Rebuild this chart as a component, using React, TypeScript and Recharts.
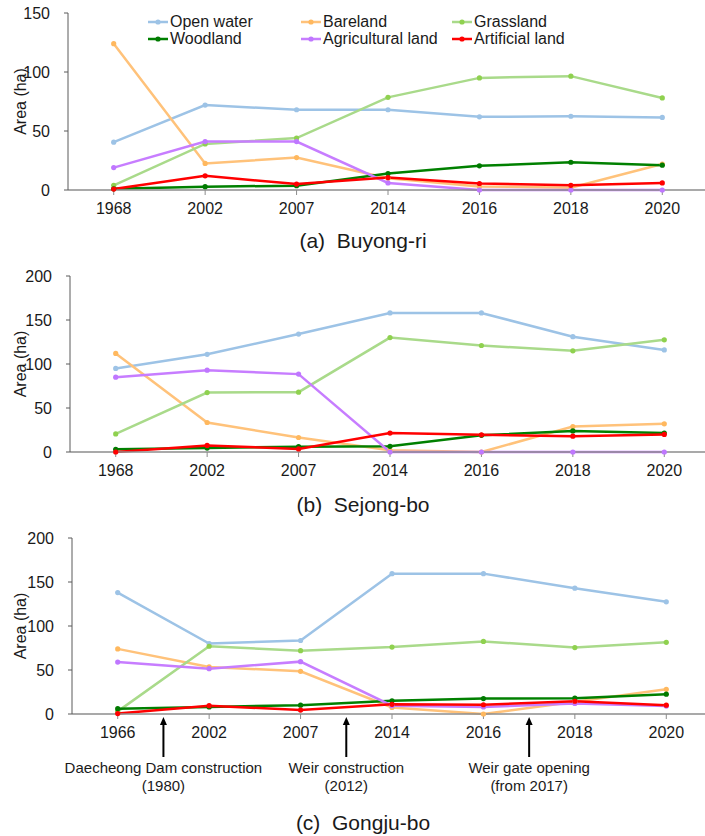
import React from 'react';
import { LineChart, Line, XAxis, YAxis } from 'recharts';

// ---------- data ----------
const yearsA = ['1968', '2002', '2007', '2014', '2016', '2018', '2020'];
const yearsB = ['1968', '2002', '2007', '2014', '2016', '2018', '2020'];
const yearsC = ['1966', '2002', '2007', '2014', '2016', '2018', '2020'];

const openWaterA = [40.5, 72, 68, 68, 62, 62.5, 61.5];
const barelandA = [124, 22.5, 27.5, 10, 3, 2, 22];
const grasslandA = [4, 39, 44, 78.5, 95, 96.5, 78];
const woodlandA = [1, 2.8, 3.7, 14, 20.5, 23.5, 21];
const agriculturalA = [19, 41, 41, 6, 0, 0, 0];
const artificialA = [0.8, 12, 5, 10.5, 5.5, 4, 6];

const openWaterB = [95, 111, 134, 158, 158, 131, 116];
const barelandB = [112, 33.5, 16.5, 2, 0, 29, 32];
const grasslandB = [20.5, 67.5, 68, 130, 121, 115, 127.5];
const woodlandB = [3, 4.5, 6, 6.5, 19, 24, 21.5];
const agriculturalB = [85, 93, 88.5, 0, 0, 0, 0];
const artificialB = [0, 7.5, 3.5, 21.5, 19.5, 18, 20];

const openWaterC = [138, 80, 83.5, 159.5, 159.5, 143, 127.5];
const barelandC = [74, 53.5, 48.5, 7.5, 0, 14, 28];
const grasslandC = [3, 77, 72, 76, 82.5, 75.5, 81.5];
const woodlandC = [6, 8, 10, 15, 17.5, 18, 22.5];
const agriculturalC = [59, 51.5, 59.5, 9.5, 8, 12, 9];
const artificialC = [0.5, 9.5, 4.5, 11, 10.5, 14.5, 10];

const ticksA = [0, 50, 100, 150];
const ticksBC = [0, 50, 100, 150, 200];

const titles = ['(a)  Buyong-ri', '(b)  Sejong-bo', '(c)  Gongju-bo'];
const eventLines = [
  ['Daecheong Dam construction', '(1980)'],
  ['Weir construction', '(2012)'],
  ['Weir gate opening', '(from 2017)'],
];
// event falls between category index k-1 and k
const eventBoundary = [1, 3, 5];

// ---------- styles ----------
const FONT = '"Liberation Sans", Arial, sans-serif';
const TEXT = '#1a1a1a';

const series = [
  { key: 'openWater', name: 'Open water', color: '#9DC3E6', dot: '#9DC3E6' },
  { key: 'bareland', name: 'Bareland', color: '#FFC27A', dot: '#FFB85E' },
  { key: 'grassland', name: 'Grassland', color: '#A9DA8A', dot: '#8FD14F' },
  { key: 'woodland', name: 'Woodland', color: '#008000', dot: '#007A00' },
  { key: 'agricultural', name: 'Agricultural land', color: '#C77DFF', dot: '#BF77FF' },
  { key: 'artificial', name: 'Artificial land', color: '#FF0000', dot: '#FF0000' },
];

function build(years: string[], ow: number[], bl: number[], gl: number[], wl: number[], ag: number[], ar: number[]) {
  return years.map((y, i) => ({
    year: y,
    openWater: ow[i],
    bareland: bl[i],
    grassland: gl[i],
    woodland: wl[i],
    agricultural: ag[i],
    artificial: ar[i],
  }));
}

const dataA = build(yearsA, openWaterA, barelandA, grasslandA, woodlandA, agriculturalA, artificialA);
const dataB = build(yearsB, openWaterB, barelandB, grasslandB, woodlandB, agriculturalB, artificialB);
const dataC = build(yearsC, openWaterC, barelandC, grasslandC, woodlandC, agriculturalC, artificialC);

const CH = 230;
const MB = 10;
const XH = 30;
const PLOT_W = 640;
const BAND = PLOT_W / 7;

const panels = [
  { top: 0, mt: 13, yw: 68, data: dataA, yMax: 150, ticks: ticksA },
  { top: 262, mt: 14, yw: 70, data: dataB, yMax: 200, ticks: ticksBC },
  { top: 524, mt: 14, yw: 72, data: dataC, yMax: 200, ticks: ticksBC },
];

const LegendBox = () => (
  <div
    style={{
      position: 'absolute',
      left: 148,
      top: 13,
      display: 'grid',
      gridTemplateColumns: '153px 151px 160px',
      fontFamily: FONT,
      fontSize: 16,
      color: TEXT,
      lineHeight: '17px',
    }}
  >
    {series.map((s) => (
      <div key={s.key} style={{ display: 'flex', alignItems: 'center', whiteSpace: 'nowrap' }}>
        <svg width={20} height={10} style={{ marginRight: 2 }}>
          <line x1={0} y1={5} x2={20} y2={5} stroke={s.color} strokeWidth={2.5} />
          <circle cx={10} cy={5} r={2.6} fill={s.dot} />
        </svg>
        <span>{s.name}</span>
      </div>
    ))}
  </div>
);

function Panel({ p }: { p: any }) {
  const width = p.yw + PLOT_W + 2;
  return (
    <div style={{ position: 'absolute', left: 0, top: p.top }}>
      <LineChart
        width={width}
        height={CH}
        data={p.data}
        margin={{ top: p.mt, right: 2, left: 0, bottom: MB }}
      >
        <XAxis
          dataKey="year"
          height={XH}
          padding={{ left: BAND / 2, right: BAND / 2 }}
          interval={0}
          axisLine={{ stroke: '#8c8c8c', strokeWidth: 1.5 }}
          tickLine={{ stroke: '#8c8c8c' }}
          tickSize={5}
          tickMargin={8}
          tick={{ fill: TEXT, fontSize: 16, fontFamily: FONT }}
        />
        <YAxis
          width={p.yw}
          domain={[0, p.yMax]}
          ticks={p.ticks}
          interval={0}
          axisLine={{ stroke: '#5a5a5a' }}
          tickLine={{ stroke: '#5a5a5a' }}
          tickSize={4}
          tickMargin={14}
          tick={{ fill: TEXT, fontSize: 16, fontFamily: FONT }}
        />
        {series.map((s) => (
          <Line
            key={s.key}
            dataKey={s.key}
            name={s.name}
            stroke={s.color}
            strokeWidth={2.5}
            dot={{ r: 2.6, fill: s.dot, stroke: s.dot, strokeWidth: 0 }}
            activeDot={false}
            isAnimationActive={false}
          />
        ))}
      </LineChart>
    </div>
  );
}

export default function App() {
  const pc = panels[2];
  const plotLeftC = pc.yw;
  const axisYC = pc.top + CH - MB - XH;
  const titleBaselines = [248, 512, 830];
  return (
    <div
      style={{
        position: 'absolute',
        left: 0,
        top: 0,
        width: 705,
        height: 836,
        overflow: 'hidden',
        background: '#fff',
      }}
    >
      {panels.map((p, i) => (
        <Panel key={i} p={p} />
      ))}
      <LegendBox />
      <svg
        width={705}
        height={836}
        style={{ position: 'absolute', left: 0, top: 0, pointerEvents: 'none' }}
      >
        {panels.map((p, i) => {
          const cy = p.top + p.mt + (CH - p.mt - MB - XH) / 2;
          return (
            <text
              key={'yl' + i}
              x={20}
              y={cy}
              transform={`rotate(-90 20 ${cy})`}
              textAnchor="middle"
              dominantBaseline="central"
              fontFamily={FONT}
              fontSize={16}
              fill={TEXT}
            >
              Area (ha)
            </text>
          );
        })}
        {titles.map((t, i) => (
          <text
            key={'t' + i}
            x={363}
            y={titleBaselines[i]}
            textAnchor="middle"
            fontFamily={FONT}
            fontSize={21}
            fill={TEXT}
            style={{ whiteSpace: 'pre' }}
          >
            {t}
          </text>
        ))}
        {eventBoundary.map((k, i) => {
          const x = plotLeftC + BAND * k;
          const top = axisYC + 3;
          return (
            <g key={'ev' + i}>
              <line x1={x} y1={top + 7} x2={x} y2={top + 40} stroke="#000" strokeWidth={2} />
              <polygon points={`${x},${top} ${x - 3.5},${top + 8} ${x + 3.5},${top + 8}`} fill="#000" />
              <text x={x} y={axisYC + 59} textAnchor="middle" fontFamily={FONT} fontSize={15} fill={TEXT}>
                {eventLines[i][0]}
              </text>
              <text x={x} y={axisYC + 77} textAnchor="middle" fontFamily={FONT} fontSize={15} fill={TEXT}>
                {eventLines[i][1]}
              </text>
            </g>
          );
        })}
      </svg>
    </div>
  );
}
